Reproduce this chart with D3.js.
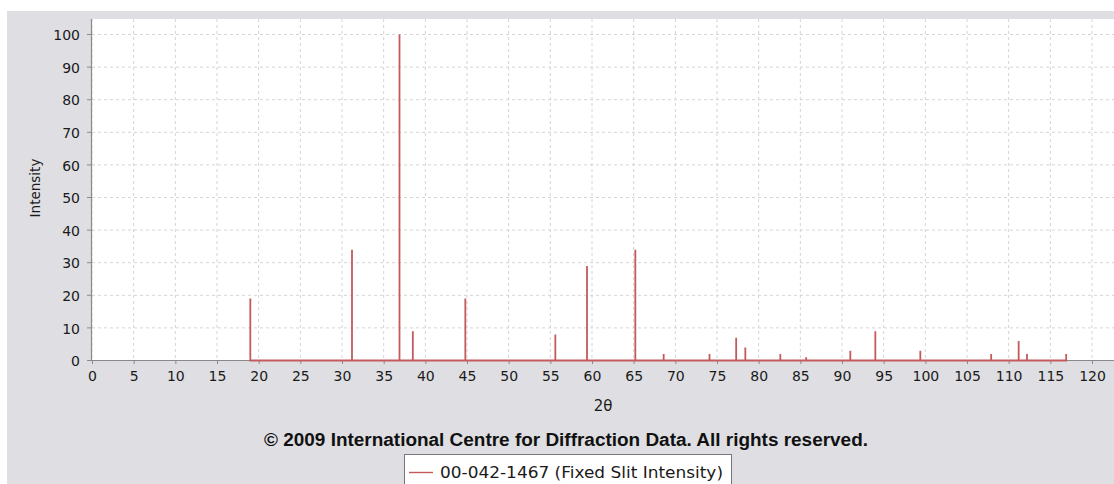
<!DOCTYPE html>
<html><head><meta charset="utf-8">
<script src="https://cdn.jsdelivr.net/npm/d3@7"></script>
<style>html,body{margin:0;padding:0;background:#fff;}svg{display:block;}</style>
</head><body>
<svg id="c" width="1114" height="484"></svg>
<script>
const peakPositions = [19.0, 31.2, 36.9, 38.5, 44.8, 55.6, 59.4, 65.2, 68.6, 74.1, 77.3, 78.4, 82.6, 85.7, 91.0, 94.0, 99.4, 107.9, 111.2, 112.2, 116.9];
const peakIntensities = [19, 34, 100, 9, 19, 8, 29, 34, 2, 2, 7, 4, 2, 1, 3, 9, 3, 2, 6, 2, 2];
const xTicks = d3.range(0, 121, 5);
const yTicks = d3.range(0, 101, 10);
const seriesName = "00-042-1467 (Fixed Slit Intensity)";
const xTitle = "2θ";
const yTitle = "Intensity";
const copyright = "© 2009 International Centre for Diffraction Data. All rights reserved.";

const svg = d3.select("#c");
const W = 1114, H = 484;
const m = {left: 92, top: 19, right: 1114, bottom: 360};
const font = "'DejaVu Sans', sans-serif";
const red = "#c45a5c";

svg.append("rect").attr("x", 7).attr("y", 11).attr("width", W - 7).attr("height", H - 11).attr("fill", "#dfdfe3");
svg.append("rect").attr("x", m.left).attr("y", m.top).attr("width", m.right - m.left).attr("height", m.bottom - m.top).attr("fill", "#fff");

const x = d3.scaleLinear().domain([0, 120]).range([92, 1092]);
const y = d3.scaleLinear().domain([0, 100]).range([360, 34]);

// grid
const g = svg.append("g");
g.selectAll("line.vg").data(xTicks).join("line")
  .attr("x1", d => x(d)).attr("x2", d => x(d)).attr("y1", m.top).attr("y2", m.bottom)
  .attr("stroke", "#d4d4d4").attr("stroke-width", 1).attr("stroke-dasharray", "3,3");
g.selectAll("line.hg").data(yTicks).join("line")
  .attr("y1", d => y(d) + 0.5).attr("y2", d => y(d) + 0.5).attr("x1", m.left).attr("x2", m.right)
  .attr("stroke", "#d4d4d4").attr("stroke-width", 1).attr("stroke-dasharray", "3,3");

// axes
const xAxis = d3.axisBottom(x).tickValues(xTicks).tickSize(4).tickPadding(6).tickSizeOuter(0);
const yAxis = d3.axisLeft(y).tickValues(yTicks).tickSize(5).tickPadding(7).tickSizeOuter(0);
const gx = svg.append("g").attr("transform", `translate(0,${m.bottom})`).call(xAxis);
gx.select(".domain").attr("d", `M${m.left},0.5H${m.right}`);
const gy = svg.append("g").attr("transform", `translate(${m.left},0)`).call(yAxis);
gy.select(".domain").attr("d", `M-0.5,${m.top}V${m.bottom}`);
[gx, gy].forEach(a => {
  a.select(".domain").attr("stroke", "#8a8a8a").attr("stroke-width", 1.2);
  a.selectAll(".tick line").attr("stroke", "#8a8a8a");
  a.selectAll(".tick text").attr("font-family", font).attr("font-size", 14).attr("fill", "#1a1a1a");
});
gy.selectAll(".tick text").attr("dy", "0.4em");
gx.selectAll(".tick text").attr("dy", "0.8em");

// series (stick pattern drawn as a single line path)
const pts = [];
peakPositions.forEach((p, i) => { pts.push([p, 0], [p, peakIntensities[i]], [p, 0]); });
const line = d3.line().x(d => x(d[0])).y(d => y(d[1]) + 0.5);
svg.append("path").datum(pts).attr("d", line).attr("fill", "none")
  .attr("stroke", red).attr("stroke-width", 1.8);

// titles
svg.append("text").attr("x", 603).attr("y", 411).attr("text-anchor", "middle")
  .attr("font-family", font).attr("font-size", 15).attr("fill", "#1a1a1a").text(xTitle);
svg.append("text").attr("transform", "translate(40,188) rotate(-90)").attr("text-anchor", "middle")
  .attr("font-family", font).attr("font-size", 13.5).attr("fill", "#1a1a1a").text(yTitle);
svg.append("text").attr("x", 264).attr("y", 446)
  .attr("font-family", "'Liberation Sans', Arial, sans-serif").attr("font-weight", "bold")
  .attr("font-size", 18).attr("textLength", 604).attr("lengthAdjust", "spacingAndGlyphs")
  .attr("fill", "#111").text(copyright);

// legend
svg.append("rect").attr("x", 404.5).attr("y", 454.5).attr("width", 327).attr("height", 32)
  .attr("fill", "#fff").attr("stroke", "#777").attr("stroke-width", 1);
svg.append("line").attr("x1", 409).attr("x2", 433).attr("y1", 472.5).attr("y2", 472.5)
  .attr("stroke", red).attr("stroke-width", 1.4);
svg.append("text").attr("x", 440).attr("y", 478).attr("font-family", font).attr("font-size", 15)
  .attr("textLength", 283).attr("lengthAdjust", "spacingAndGlyphs")
  .attr("fill", "#1a1a1a").text(seriesName);
</script>
</body></html>
